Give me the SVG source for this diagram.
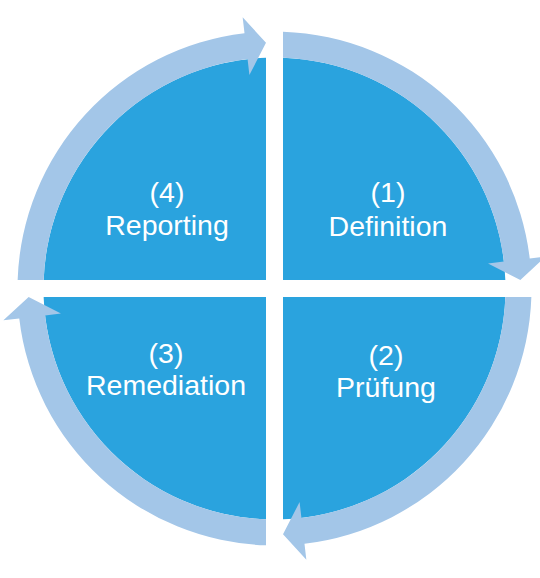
<svg xmlns="http://www.w3.org/2000/svg" width="540" height="578" viewBox="0 0 540 578">
  <style>
    .quad { fill: #2AA3DE; }
    .arc { fill: #A3C6E8; }
    .lbl { fill: #FFFFFF; font-family: "Liberation Sans", Arial, sans-serif; font-size: 28.5px; text-anchor: middle; }
  </style>
  <defs>
    <path id="q" d="M283,280 L283,57.66 A231,231 0 0 1 505.34,280 Z"/>
    <path id="a" d="M283,31.64 A257,257 0 0 1 529.74,258.52 L545.63,256.65 L520.35,280 L488.03,263.42 L503.92,261.55 A231,231 0 0 0 283,57.66 Z"/>
  </defs>
  <rect width="540" height="578" fill="#FFFFFF"/>
  <g id="definition">
    <use href="#q" class="quad"/>
    <text class="lbl" x="388" y="202">(1)</text>
    <text class="lbl" x="388" y="236">Definition</text>
  </g>
  <g id="pruefung">
    <use href="#q" class="quad" transform="rotate(90 274.5 288.5)"/>
    <text class="lbl" x="386" y="365">(2)</text>
    <text class="lbl" x="386" y="397">Prüfung</text>
  </g>
  <g id="remediation">
    <use href="#q" class="quad" transform="rotate(180 274.5 288.5)"/>
    <text class="lbl" x="166" y="363">(3)</text>
    <text class="lbl" x="166" y="395">Remediation</text>
  </g>
  <g id="reporting">
    <use href="#q" class="quad" transform="rotate(270 274.5 288.5)"/>
    <text class="lbl" x="167" y="202">(4)</text>
    <text class="lbl" x="167" y="235">Reporting</text>
  </g>
  <g id="connectors">
    <use href="#a" class="arc"/>
    <use href="#a" class="arc" transform="rotate(90 274.5 288.5)"/>
    <use href="#a" class="arc" transform="rotate(180 274.5 288.5)"/>
    <use href="#a" class="arc" transform="rotate(270 274.5 288.5)"/>
  </g>
</svg>
